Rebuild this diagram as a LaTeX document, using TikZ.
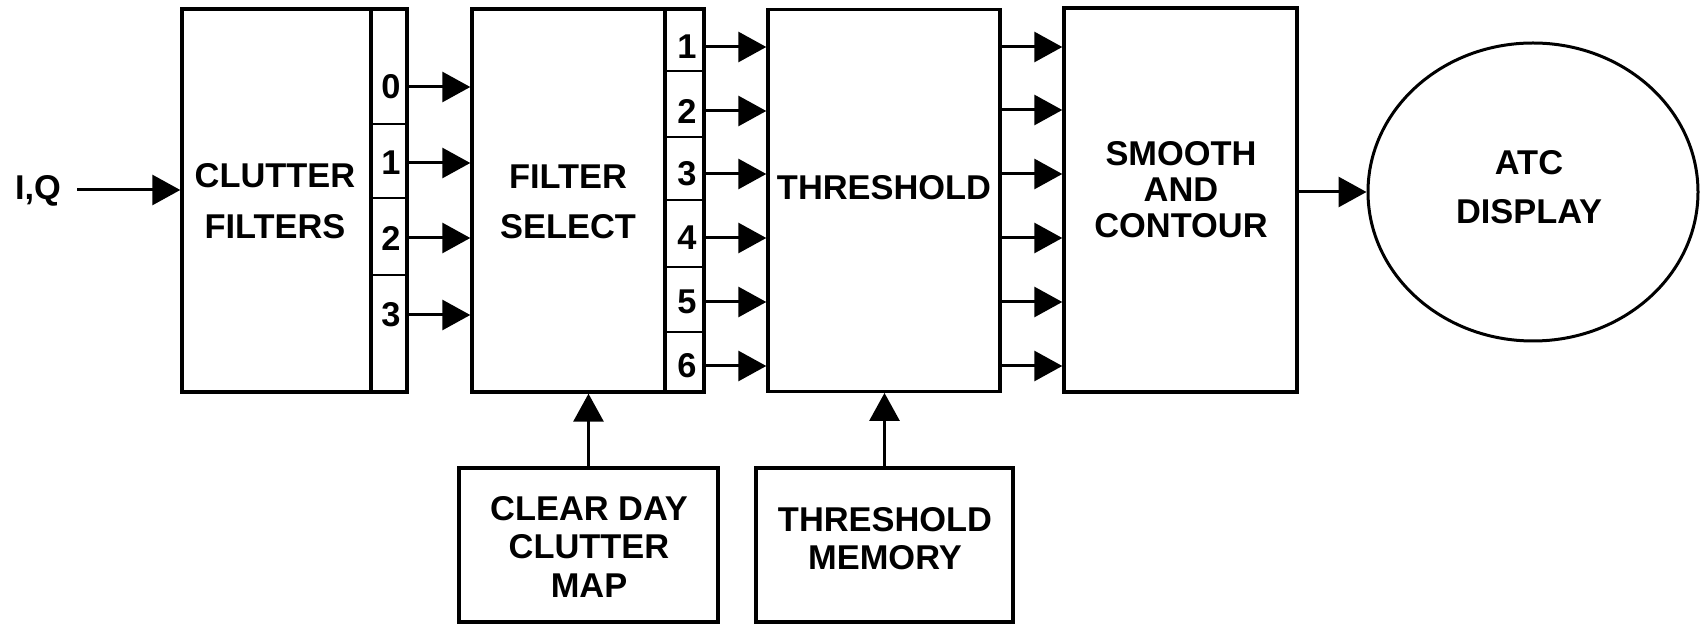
\documentclass[tikz,border=0pt]{standalone}
\usepackage{fontspec}
\setmainfont{Liberation Sans}
\usetikzlibrary{arrows.meta,shapes.geometric}
\begin{document}
\begin{tikzpicture}[x=0.5pt,y=-0.5pt,
  box/.style={draw, line width=1.7pt, inner sep=0pt},
  lbl/.style={font=\bfseries\fontsize{17.2pt}{#1}\selectfont, inner sep=0pt, align=center},
  lbl/.default=20pt,
  arr/.style={line width=1.5pt, -{Triangle[length=14pt,width=15pt]}},
  divider/.style={line width=1.4pt}]
\useasboundingbox (0,0) rectangle (1704,624);
% boxes
\node[box, minimum width=94.5pt, minimum height=191.5pt] (cf) at (276.5,200.5) {};
\node[box, minimum width=18pt, minimum height=191.5pt] (cfp) at (389,200.5) {};
\node[box, minimum width=96.5pt, minimum height=191.5pt] (fs) at (568.5,200.5) {};
\node[box, minimum width=19.5pt, minimum height=191.5pt] (fsp) at (684.5,200.5) {};
\node[box, minimum width=116pt, minimum height=191pt] (th) at (884,200.25) {};
\node[box, minimum width=116.5pt, minimum height=192pt] (sm) at (1180.5,200) {};
\node[draw, ellipse, line width=1.5pt, minimum width=165pt, minimum height=149pt, inner sep=0pt] (atc) at (1533,192) {};
\node[box, minimum width=129.5pt, minimum height=77pt] (cd) at (588.5,545) {};
\node[box, minimum width=128.5pt, minimum height=77pt] (tm) at (884.5,545) {};
% texts
\node[lbl=25.5pt] (cft) at (275,201.5) {CLUTTER\\FILTERS};
\node[lbl=25pt] (fst) at (568,202) {FILTER\\SELECT};
\node[lbl] (tht) at (884,188) {THRESHOLD};
\node[lbl=18pt] (smt) at (1181,190) {SMOOTH\\AND\\CONTOUR};
\node[lbl=24.5pt] (atct) at (1529,187.5) {ATC\\DISPLAY};
\node[lbl=19.25pt] (cdt) at (589,546.5) {CLEAR DAY\\CLUTTER\\MAP};
\node[lbl=19pt] (tmt) at (885,539) {THRESHOLD\\MEMORY};
\node[lbl, anchor=base] (iq) at (38,200) {I,Q};
% port dividers
\foreach \y in {124,198,275}
  \draw[divider] (cfp.west |- 0,\y) -- (cfp.east |- 0,\y);
\foreach \y in {71,137,200,267,332}
  \draw[divider] (fsp.west |- 0,\y) -- (fsp.east |- 0,\y);
% port labels and arrows
\foreach \n/\y in {0/87,1/163,2/238,3/315}{
  \node[lbl] (c\n) at (391,\y) {\n};
  \draw[arr] (cfp.east |- c\n) -- (fs.west |- c\n);
}
\foreach \n/\y in {1/47,2/111,3/174,4/238,5/302,6/366}{
  \node[lbl] (f\n) at (687,\y) {\n};
  \draw[arr] (fsp.east |- f\n) -- (th.west |- f\n);
}
\foreach \y in {47,110,174,238,302,366}
  \draw[arr] (th.east |- 0,\y) -- (sm.west |- 0,\y);
% other connectors
\coordinate (ins) at (77,190);
\draw[arr] (ins) -- (ins -| cf.west);
\draw[arr] (sm.east |- atc.west) -- (atc.west);
\draw[arr] (cd.north) -- (cd.north |- fs.south);
\draw[arr] (tm.north) -- (tm.north |- th.south);
\end{tikzpicture}
\end{document}
